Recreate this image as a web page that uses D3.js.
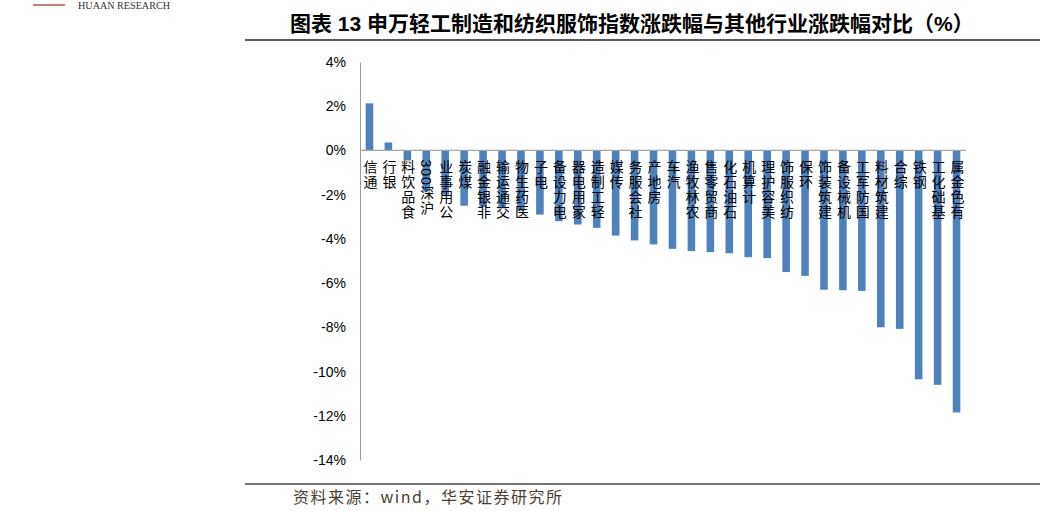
<!DOCTYPE html>
<html>
<head>
<meta charset="utf-8">
<style>
body { margin: 0; background: #fff; }
svg { display: block; }
.ylab text { font-family: "Liberation Sans", Arial, sans-serif; font-size: 14px; fill: #000; }
.cat text { font-family: "Liberation Sans", "Noto Sans CJK SC", sans-serif; font-size: 14px; fill: #000; }
</style>
</head>
<body>
<svg width="1046" height="511"></svg>
<script src="https://d3js.org/d3.v7.min.js"></script>
<script>
// industries, sorted by change (%)
var categories = ["通信", "银行", "食品饮料", "沪深300", "公用事业", "煤炭", "非银金融", "交通运输",
  "医药生物", "电子", "电力设备", "家用电器", "轻工制造", "传媒", "社会服务", "房地产", "汽车",
  "农林牧渔", "商贸零售", "石油石化", "计算机", "美容护理", "纺织服饰", "环保", "建筑装饰",
  "机械设备", "国防军工", "建筑材料", "综合", "钢铁", "基础化工", "有色金属"];

var changes = [2.13, 0.36, -0.45, -1.85, -2.0, -2.5, -2.55, -2.62,
  -2.72, -2.9, -3.2, -3.35, -3.5, -3.85, -4.07, -4.25, -4.45,
  -4.55, -4.6, -4.65, -4.83, -4.87, -5.5, -5.67, -6.3,
  -6.32, -6.35, -8.0, -8.07, -10.35, -10.6, -11.85];

var yTicks = [4, 2, 0, -2, -4, -6, -8, -10, -12, -14];

var title = "图表 13 申万轻工制造和纺织服饰指数涨跌幅与其他行业涨跌幅对比（%）";
var source = "资料来源：wind，华安证券研究所";

var svg = d3.select("svg");

// header bits
svg.append("line").attr("x1", 33).attr("x2", 65).attr("y1", 5).attr("y2", 5)
  .attr("stroke", "#c0504d").attr("stroke-width", 1.5);
svg.append("text").attr("x", 78).attr("y", 9)
  .attr("textLength", 92).attr("lengthAdjust", "spacingAndGlyphs")
  .style("font-family", "'Liberation Serif', serif").style("font-size", "11px").style("fill", "#333")
  .text("HUAAN RESEARCH");

svg.append("text").attr("x", 290).attr("y", 31)
  .style("font-family", "'Liberation Sans', 'Noto Sans CJK SC', sans-serif")
  .style("font-size", "21px").style("font-weight", "bold").style("fill", "#000")
  .text(title);
svg.append("line").attr("x1", 245).attr("x2", 1040).attr("y1", 40).attr("y2", 40)
  .attr("stroke", "#222").attr("stroke-width", 1.5);

svg.append("line").attr("x1", 245).attr("x2", 1040).attr("y1", 484).attr("y2", 484)
  .attr("stroke", "#444").attr("stroke-width", 1.5);
svg.append("text").attr("x", 293).attr("y", 503)
  .style("font-family", "'Noto Sans CJK SC', sans-serif").style("font-size", "16px")
  .style("letter-spacing", "1.5px").style("fill", "#4a3f33")
  .text(source);

// scales
var x = d3.scaleBand().domain(categories).range([360, 966])
  .paddingInner(0.6).paddingOuter(0.3);
var y = d3.scaleLinear().domain([-14, 4]).range([460, 62]);

// y axis
var yAxis = svg.append("g").attr("class", "ylab")
  .attr("transform", "translate(360,0)")
  .call(d3.axisLeft(y).tickValues(yTicks).tickFormat(function(d) { return d + "%"; })
    .tickSize(0).tickPadding(14));
yAxis.select(".domain").attr("stroke", "#9a9a9a");

// bars
svg.append("g").selectAll("rect")
  .data(categories)
  .enter().append("rect")
    .attr("x", function(d) { return x(d); })
    .attr("width", x.bandwidth())
    .attr("y", function(d, i) { return y(Math.max(0, changes[i])); })
    .attr("height", function(d, i) { return Math.abs(y(changes[i]) - y(0)); })
    .attr("fill", "#4f81bd");

// zero line
svg.append("line").attr("x1", 360).attr("x2", 966)
  .attr("y1", y(0)).attr("y2", y(0))
  .attr("stroke", "#a6a6a6").attr("stroke-width", 1.2);

// category labels: vertical, characters read from the bottom up
svg.append("g").attr("class", "cat").selectAll("text")
  .data(categories)
  .enter().append("text")
    .attr("x", function(d) { return x(d) + x.bandwidth() / 2; })
    .attr("y", y(0) + 9)
    .style("writing-mode", "vertical-rl")
    .style("letter-spacing", "1px")
    .text(function(d) { return d.match(/[0-9A-Za-z]+|./g).reverse().join(""); });
</script>
</body>
</html>
